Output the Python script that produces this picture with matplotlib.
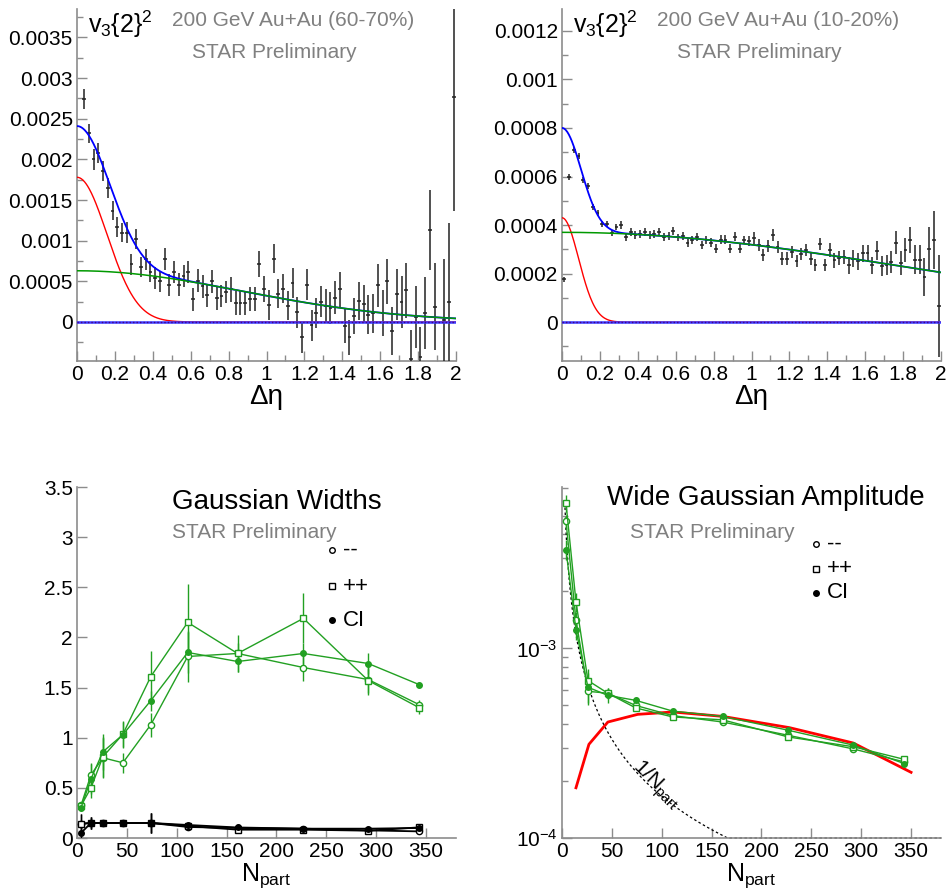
import matplotlib
matplotlib.use('Agg')
import matplotlib.pyplot as plt
import numpy as np
from matplotlib.lines import Line2D
from matplotlib.ticker import MultipleLocator, FuncFormatter, LogLocator, NullFormatter

plt.rcParams['font.family'] = ['Liberation Sans', 'DejaVu Sans']
plt.rcParams['mathtext.fontset'] = 'custom'
plt.rcParams['mathtext.rm'] = 'Liberation Sans'
plt.rcParams['mathtext.it'] = 'Liberation Sans'
plt.rcParams['mathtext.bf'] = 'Liberation Sans:bold'

# ---------------- top left: v3{2}^2 vs deta, 60-70% ----------------
eta_tl = [0.0375, 0.0625, 0.0875, 0.1125, 0.1375, 0.1625, 0.1875, 0.2125, 0.2375, 0.2625,
          0.2875, 0.3125, 0.3375, 0.3625, 0.3875, 0.4125, 0.4375, 0.4625, 0.4875, 0.5125,
          0.5375, 0.5625, 0.5875, 0.6125, 0.6375, 0.6625, 0.6875, 0.7125, 0.7375, 0.7625,
          0.7875, 0.8125, 0.8375, 0.8625, 0.8875, 0.9125, 0.9375, 0.9625, 0.9875, 1.0125,
          1.0375, 1.0625, 1.0875, 1.1125, 1.1375, 1.1625, 1.1875, 1.2125, 1.2375, 1.2625,
          1.2875, 1.3125, 1.3375, 1.3625, 1.3875, 1.4125, 1.4375, 1.4625, 1.4875, 1.5125,
          1.5375, 1.5625, 1.5875, 1.6125, 1.6375, 1.6625, 1.6875, 1.7125, 1.7375, 1.7625,
          1.7875, 1.8125, 1.8375, 1.8625, 1.8875, 1.9375, 1.9625, 1.9875]
v3_tl = [0.00274, 0.00232, 0.00200, 0.00208, 0.00186, 0.00165, 0.00137, 0.00117, 0.00110, 0.00110,
         0.00071, 0.00102, 0.00068, 0.00077, 0.00062, 0.00054, 0.00050, 0.00078, 0.00046, 0.00061,
         0.00046, 0.00057, 0.00062, 0.00028, 0.00051, 0.00044, 0.00033, 0.00050, 0.00029, 0.00032,
         0.00037, 0.00040, 0.00023, 0.00023, 0.00023, 0.00028, 0.00028, 0.00071, 0.00041, 0.00021,
         0.00078, 0.00035, 0.00041, 0.00020, 0.00048, 0.00012, -0.00019, 0.00046, -0.00004, 0.00011,
         0.00025, 0.00020, 0.00017, 0.00030, 0.00040, -0.00005, -0.00019, 0.00007, 0.00026, 0.00022,
         0.00009, 0.00011, 0.00045, 0.00011, 0.00050, -0.00011, 0.00034, 0.00024, 0.00039, -0.00046,
         0.00006, -0.00043, 0.00011, 0.00113, 0.00019, 0.00003, 0.00025, 0.00277]
err_tl = [0.00012, 0.000115, 0.000125, 0.00012, 0.00012, 0.00012, 0.000115, 0.00012, 0.00012, 0.00013,
          0.00013, 0.000125, 0.000125, 0.000125, 0.00013, 0.00014, 0.00013, 0.000135, 0.000135, 0.000135,
          0.00014, 0.000135, 0.000135, 0.00014, 0.00014, 0.00014, 0.00014, 0.00014, 0.00014, 0.00014,
          0.00014, 0.00015, 0.00015, 0.00015, 0.00015, 0.00015, 0.00015, 0.00016, 0.00016, 0.00018,
          0.00018, 0.00018, 0.00018, 0.00018, 0.00018, 0.00019, 0.00019, 0.00019, 0.00019, 0.00018,
          0.00019, 0.00021, 0.00020, 0.00020, 0.00021, 0.00021, 0.00022, 0.00022, 0.00023, 0.00023,
          0.00024, 0.00024, 0.00026, 0.00028, 0.00028, 0.00030, 0.00031, 0.00032, 0.00034, 0.00036,
          0.00038, 0.00037, 0.00044, 0.00049, 0.00054, 0.00074, 0.00097, 0.00140]
# fit parameters (amplitude, width)
tl_narrow_amp, tl_narrow_sig_tot, tl_narrow_sig = 0.00178, 0.172, 0.158
tl_wide_amp, tl_wide_sig = 0.00063, 0.865

# ---------------- top right: v3{2}^2 vs deta, 10-20% ----------------
eta_tr = [0.0125, 0.0375, 0.0625, 0.0875, 0.1125, 0.1375, 0.1625, 0.1875, 0.2125, 0.2375,
          0.2625, 0.2875, 0.3125, 0.3375, 0.3625, 0.3875, 0.4125, 0.4375, 0.4625, 0.4875,
          0.5125, 0.5375, 0.5625, 0.5875, 0.6125, 0.6375, 0.6625, 0.6875, 0.7125, 0.7375,
          0.7625, 0.7875, 0.8125, 0.8375, 0.8625, 0.8875, 0.9125, 0.9375, 0.9625, 0.9875,
          1.0125, 1.0375, 1.0625, 1.0875, 1.1125, 1.1375, 1.1625, 1.1875, 1.2125, 1.2375,
          1.2625, 1.2875, 1.3125, 1.3375, 1.3625, 1.3875, 1.4125, 1.4375, 1.4625, 1.4875,
          1.5125, 1.5375, 1.5625, 1.5875, 1.6125, 1.6375, 1.6625, 1.6875, 1.7125, 1.7375,
          1.7625, 1.7875, 1.8125, 1.8375, 1.8625, 1.8875, 1.9125, 1.9375, 1.9625, 1.9875]
v3_tr = [0.000176, 0.000599, 0.000709, 0.000684, 0.000585, 0.000560, 0.000475, 0.000450, 0.000404, 0.000406,
         0.000368, 0.000393, 0.000400, 0.000352, 0.000372, 0.000358, 0.000363, 0.000372, 0.000358, 0.000363,
         0.000371, 0.000352, 0.000354, 0.000376, 0.000349, 0.000354, 0.000327, 0.000338, 0.000352, 0.000317,
         0.000338, 0.000327, 0.000303, 0.000340, 0.000340, 0.000303, 0.000352, 0.000303, 0.000338, 0.000335,
         0.000345, 0.000317, 0.000276, 0.000313, 0.000358, 0.000310, 0.000262, 0.000262, 0.000290, 0.000251,
         0.000280, 0.000299, 0.000262, 0.000235, 0.000321, 0.000235, 0.000297, 0.000255, 0.000265, 0.000269,
         0.000235, 0.000262, 0.000251, 0.000283, 0.000283, 0.000235, 0.000294, 0.000231, 0.000235, 0.000249,
         0.000327, 0.000244, 0.000297, 0.000338, 0.000258, 0.000258, 0.000187, 0.000300, 0.000338, 0.000066]
err_tr = [0.000012, 0.000012, 0.000012, 0.000012, 0.000012, 0.000012, 0.000012, 0.000012, 0.000012, 0.000012,
          0.000012, 0.000012, 0.000016, 0.000016, 0.000016, 0.000016, 0.000016, 0.000016, 0.000016, 0.000016,
          0.000016, 0.000016, 0.000016, 0.000016, 0.000016, 0.000016, 0.000016, 0.000016, 0.000016, 0.000016,
          0.000018, 0.000018, 0.000018, 0.000018, 0.000018, 0.000018, 0.000018, 0.000018, 0.000018, 0.000020,
          0.000025, 0.000025, 0.000025, 0.000025, 0.000025, 0.000025, 0.000025, 0.000025, 0.000025, 0.000025,
          0.000025, 0.000025, 0.000025, 0.000025, 0.000025, 0.000025, 0.000030, 0.000030, 0.000030, 0.000030,
          0.000035, 0.000035, 0.000035, 0.000035, 0.000035, 0.000035, 0.000040, 0.000040, 0.000040, 0.000045,
          0.000048, 0.000048, 0.000050, 0.000055, 0.000060, 0.000060, 0.000078, 0.000090, 0.000120, 0.000210]
tr_narrow_amp, tr_narrow_sig_tot, tr_narrow_sig = 0.00043, 0.100, 0.088
tr_wide_amp, tr_wide_sig = 0.00037, 1.84

# ---------------- bottom panels: vs Npart ----------------
npart = [4, 14, 26, 46, 74, 111, 161, 227, 292, 343]
# wide gaussian widths (green)
wid_mm = [0.325, 0.63, 0.80, 0.75, 1.13, 1.81, 1.84, 1.70, 1.58, 1.33]
wid_pp = [0.32, 0.50, 0.81, 1.035, 1.61, 2.15, 1.84, 2.19, 1.57, 1.30]
wid_ci = [0.30, 0.59, 0.86, 1.03, 1.37, 1.85, 1.76, 1.84, 1.74, 1.53]
wid_mm_err = [0.03, 0.12, 0.20, 0.10, 0.12, 0.25, 0.10, 0.13, 0.15, 0.05]
wid_pp_err = [0.03, 0.10, 0.20, 0.13, 0.25, 0.38, 0.18, 0.25, 0.12, 0.06]
wid_ci_err = [0.03, 0.15, 0.18, 0.13, 0.10, 0.20, 0.10, 0.10, 0.10, 0.03]
# narrow gaussian widths (black)
nar_mm = [0.14, 0.15, 0.15, 0.15, 0.15, 0.11, 0.10, 0.093, 0.076, 0.066]
nar_pp = [0.143, 0.15, 0.15, 0.15, 0.15, 0.12, 0.083, 0.083, 0.073, 0.106]
nar_ci = [0.05, 0.15, 0.15, 0.15, 0.15, 0.13, 0.105, 0.093, 0.093, 0.10]
nar_err = [0.10, 0.06, 0.02, 0.02, 0.10, 0.02, 0.01, 0.01, 0.01, 0.01]

# wide gaussian amplitude
amp_mm = [0.00468, 0.00141, 0.000594, 0.00058, 0.000500, 0.000442, 0.000409, 0.000348, 0.000295, 0.000252]
amp_pp = [0.00583, 0.001765, 0.000677, 0.00058, 0.000485, 0.000435, 0.000420, 0.000341, 0.000303, 0.000260]
amp_ci = [0.00331, 0.001253, 0.000624, 0.000565, 0.000532, 0.000467, 0.000438, 0.000370, 0.000309, 0.000247]
amp_mm_err = [0.0004, 0.00015, 0.00008, 0.00003, 0.00002, 0.00001, 0.00001, 0.00001, 0.000008, 0.000008]
amp_pp_err = [0.0006, 0.00020, 0.00010, 0.00004, 0.00002, 0.00001, 0.00001, 0.00001, 0.000008, 0.000008]
amp_ci_err = [0.0004, 0.00015, 0.00012, 0.00005, 0.00002, 0.00001, 0.00001, 0.00001, 0.000008, 0.000008]
npart_red = [14, 27, 46, 76, 111, 161, 228, 292, 350]
amp_red = [0.000184, 0.000312, 0.000409, 0.000449, 0.000462, 0.000438, 0.000382, 0.000317, 0.000222]
inv_npart_coef = 0.0166  # 1/Npart reference curve normalisation

W, H = 948, 892
fig = plt.figure(figsize=(W/100, H/100), dpi=100)

GREY_TXT = '#808080'
GREEN = '#22a022'


def px_axes(x0, y0, x1, y1):
    # axes from pixel box (y measured from top)
    return fig.add_axes([x0/W, 1 - y1/H, (x1 - x0)/W, (y1 - y0)/H])


def root_style(ax):
    for s in ['top', 'right']:
        ax.spines[s].set_visible(False)
    for s in ['left', 'bottom']:
        ax.spines[s].set_color('#8c8c8c')
        ax.spines[s].set_linewidth(1.2)
    ax.tick_params(which='both', direction='in', color='#8c8c8c', labelsize=15, pad=3)
    ax.tick_params(which='major', length=7, width=1)
    ax.tick_params(which='minor', length=4, width=1)


def ftext(x, y, s, **kw):
    fig.text(x/W, 1 - y/H, s, **kw)


def fmarker(x, y, **kw):
    fig.add_artist(Line2D([x/W], [1 - y/H], transform=fig.transFigure, **kw))


def gaus(x, amp, sig):
    return amp*np.exp(-x**2/(2*sig**2))


gfmt = FuncFormatter(lambda v, p: '%g' % round(v, 6))


def top_panel(ax, eta, v3, err, n_amp, n_sig_tot, n_sig, w_amp, w_sig, ylim, ymaj, ymin):
    x = np.linspace(0, 2, 500)
    ax.errorbar(eta, v3, yerr=err, xerr=0.01, fmt='none', ecolor='#222222',
                elinewidth=1.1, capsize=0, zorder=3)
    ax.plot(x, gaus(x, n_amp, n_sig_tot) + gaus(x, w_amp, w_sig), color='#0000ff', lw=1.3, zorder=4)
    ax.plot(x, gaus(x, n_amp, n_sig), color='#ff0000', lw=1.0, zorder=4)
    ax.plot(x, gaus(x, w_amp, w_sig), color='#009900', lw=1.1, zorder=5)
    ax.axhline(0, color='#3a3aff', lw=1.8, zorder=6)
    ax.axhline(0, color='#4b0082', lw=1.0, ls=(0, (1, 1.5)), zorder=7)
    ax.set_xlim(0, 2)
    ax.set_ylim(*ylim)
    root_style(ax)
    ax.xaxis.set_major_locator(MultipleLocator(0.2))
    ax.xaxis.set_minor_locator(MultipleLocator(0.1))
    ax.yaxis.set_major_locator(MultipleLocator(ymaj))
    ax.yaxis.set_minor_locator(MultipleLocator(ymin))
    ax.xaxis.set_major_formatter(gfmt)
    ax.yaxis.set_major_formatter(gfmt)
    ax.set_xlabel('Δη', fontsize=20, labelpad=0)


ax1 = px_axes(77, 9, 456, 361)
top_panel(ax1, eta_tl, v3_tl, err_tl, tl_narrow_amp, tl_narrow_sig_tot, tl_narrow_sig,
          tl_wide_amp, tl_wide_sig, (-0.00048, 0.00385), 0.0005, 0.00025)
ftext(88, 24, r'$v_3\{2\}^2$', fontsize=18, va='center')
ftext(172, 20, '200 GeV Au+Au (60-70%)', fontsize=15, color=GREY_TXT, va='center')
ftext(274, 53, 'STAR Preliminary', fontsize=15, color=GREY_TXT, va='center', ha='center')

ax2 = px_axes(562, 9, 941, 361)
top_panel(ax2, eta_tr, v3_tr, err_tr, tr_narrow_amp, tr_narrow_sig_tot, tr_narrow_sig,
          tr_wide_amp, tr_wide_sig, (-0.00016, 0.00129), 0.0002, 0.0001)
ftext(573, 24, r'$v_3\{2\}^2$', fontsize=18, va='center')
ftext(657, 20, '200 GeV Au+Au (10-20%)', fontsize=15, color=GREY_TXT, va='center')
ftext(759, 53, 'STAR Preliminary', fontsize=15, color=GREY_TXT, va='center', ha='center')

# ---------------- bottom left: widths ----------------
ax3 = px_axes(77, 487, 456, 838)
for vals, errs, mk, mfc, ms in [(wid_mm, wid_mm_err, 'o', 'white', 4.5),
                                (wid_pp, wid_pp_err, 's', 'white', 5),
                                (wid_ci, wid_ci_err, 'o', GREEN, 4)]:
    ax3.errorbar(npart, vals, yerr=errs, color=GREEN, marker=mk, mfc=mfc, mec=GREEN, ms=ms,
                 lw=1.0, elinewidth=1.0, capsize=0, zorder=3)
for vals, mk, mfc, ms in [(nar_mm, 'o', 'white', 4.5), (nar_pp, 's', 'white', 5), (nar_ci, 'o', 'k', 4)]:
    ax3.errorbar(npart, vals, yerr=nar_err, color='k', marker=mk, mfc=mfc, mec='k', ms=ms,
                 lw=1.3, elinewidth=1.0, capsize=0, zorder=3)
ax3.set_xlim(0, 380)
ax3.set_ylim(0, 3.5)
root_style(ax3)
ax3.xaxis.set_major_locator(MultipleLocator(50))
ax3.yaxis.set_major_locator(MultipleLocator(0.5))
ax3.xaxis.set_major_formatter(gfmt)
ax3.yaxis.set_major_formatter(gfmt)
ax3.set_xlabel(r'$N_{part}$', fontsize=18, labelpad=0)
ftext(172, 502, 'Gaussian Widths', fontsize=20, va='center')
ftext(172, 532, 'STAR Preliminary', fontsize=15, color=GREY_TXT, va='center')
for yy, mk, mfc, lab in [(550, 'o', 'white', '--'), (586, 's', 'white', '++'), (620, 'o', 'k', 'CI')]:
    fmarker(332, yy, marker=mk, mfc=mfc, mec='k', ms=4.5 if mk == 's' else 4, ls='none')
    ftext(343, yy, lab, fontsize=16, va='center')

# ---------------- bottom right: amplitude ----------------
ax4 = px_axes(562, 487, 941, 838)
ax4.set_yscale('log')
nn = np.linspace(3, 380, 800)
ax4.plot(nn, np.maximum(inv_npart_coef/nn, 1.0e-4), color='k', lw=0.9, ls=(0, (2, 2)),
         clip_on=False, zorder=2)
ax4.plot(npart_red, amp_red, color='#ff0000', lw=2.0, zorder=3)
for vals, errs, mk, mfc, ms in [(amp_mm, amp_mm_err, 'o', 'white', 4.5),
                                (amp_pp, amp_pp_err, 's', 'white', 5),
                                (amp_ci, amp_ci_err, 'o', GREEN, 4)]:
    ax4.errorbar(npart, vals, yerr=errs, color=GREEN, marker=mk, mfc=mfc, mec=GREEN, ms=ms,
                 lw=1.0, elinewidth=1.0, capsize=0, zorder=4)
ax4.set_xlim(0, 380)
ax4.set_ylim(1e-4, 0.0071)
root_style(ax4)
ax4.xaxis.set_major_locator(MultipleLocator(50))
ax4.xaxis.set_major_formatter(gfmt)
ax4.yaxis.set_major_locator(LogLocator(base=10))
ax4.yaxis.set_minor_locator(LogLocator(base=10, subs=np.arange(2, 10)))
ax4.yaxis.set_minor_formatter(NullFormatter())
ax4.set_xlabel(r'$N_{part}$', fontsize=18, labelpad=0)
ax4.text(94, 1.9e-4, r'$1/N_{part}$', fontsize=15, rotation=-45, ha='center', va='center',
         rotation_mode='anchor')
ftext(607, 498, 'Wide Gaussian Amplitude', fontsize=20, va='center')
ftext(630, 532, 'STAR Preliminary', fontsize=15, color=GREY_TXT, va='center')
for yy, mk, mfc, lab in [(544, 'o', 'white', '--'), (569, 's', 'white', '++'), (593, 'o', 'k', 'CI')]:
    fmarker(816, yy, marker=mk, mfc=mfc, mec='k', ms=4.5 if mk == 's' else 4, ls='none')
    ftext(827, yy, lab, fontsize=16, va='center')

fig.savefig('out.png', dpi=100)
